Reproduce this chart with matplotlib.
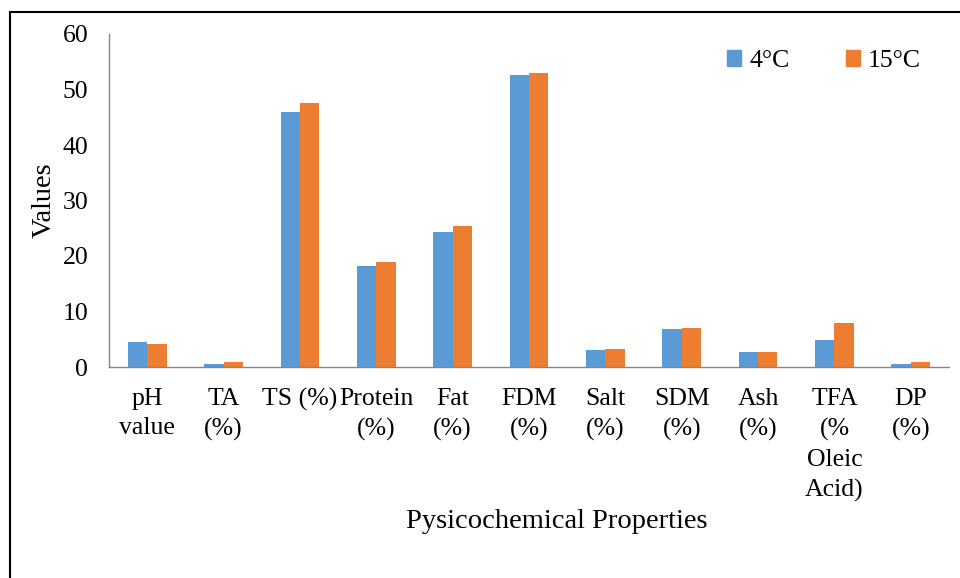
import numpy as np
import matplotlib.pyplot as plt
from matplotlib.patches import Patch
from matplotlib.lines import Line2D

plt.rcParams['font.family'] = ['Liberation Serif', 'DejaVu Serif']

categories = ['pH\nvalue', 'TA\n(%)', 'TS (%)', 'Protein\n(%)', 'Fat\n(%)', 'FDM\n(%)',
              'Salt\n(%)', 'SDM\n(%)', 'Ash\n(%)', 'TFA\n(%\nOleic\nAcid)', 'DP\n(%)']
vals_4c = [4.45, 0.55, 45.9, 18.2, 24.3, 52.6, 3.05, 6.8, 2.7, 4.9, 0.55]
vals_15c = [4.15, 0.95, 47.6, 18.9, 25.4, 53.0, 3.2, 7.0, 2.7, 7.9, 0.85]
series_names = ['4°C', '15°C']
blue = '#5B9BD5'
orange = '#ED7D31'

fig = plt.figure(figsize=(9.6, 5.78), dpi=100)
ax = fig.add_axes([109/960, 1 - 367/578, 840/960, 333/578])

x = np.arange(len(categories))
w = 0.253
ax.bar(x - w/2, vals_4c, w, color=blue, label=series_names[0])
ax.bar(x + w/2, vals_15c, w, color=orange, label=series_names[1])

ax.set_xlim(-0.5, len(categories) - 0.5)
ax.set_ylim(0, 60)
ax.set_yticks(range(0, 61, 10))
ax.set_xticks(x)
ax.set_xticklabels(categories, linespacing=1.45)
ax.tick_params(axis='both', length=0, labelsize=18.5, colors='black')
ax.tick_params(axis='x', pad=15)
ax.tick_params(axis='y', pad=15)

for s in ['top', 'right']:
    ax.spines[s].set_visible(False)
for s in ['left', 'bottom']:
    ax.spines[s].set_color('#868686')
    ax.spines[s].set_linewidth(1.0)

ax.set_ylabel('Values', fontsize=20.5, labelpad=4)
fig.text(557/960, 1 - 522/578, 'Pysicochemical Properties', fontsize=20.5,
         ha='center', va='center')

handles = [Patch(color=blue), Patch(color=orange)]
fig.legend(handles, series_names, loc='center', bbox_to_anchor=(824/960, 1 - 61/578),
           ncol=2, frameon=False, fontsize=18.5, handlelength=0.55, handleheight=0.55,
           handletextpad=0.3, columnspacing=2.2)

# outer frame (top and left only)
fig.add_artist(Line2D([10/960, 1], [1 - 12/578, 1 - 12/578], color='black', lw=1.5))
fig.add_artist(Line2D([10/960, 10/960], [0, 1 - 12/578], color='black', lw=1.5))

fig.savefig('out.png', dpi=100)
